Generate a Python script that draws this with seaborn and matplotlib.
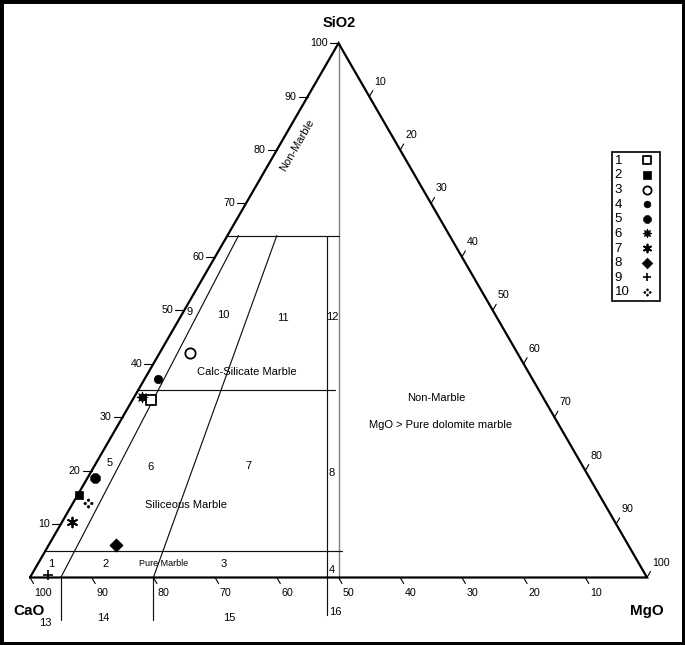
import numpy as np
import pandas as pd
import seaborn as sns
import matplotlib.pyplot as plt
from matplotlib.path import Path

# sample compositions in wt%
samples = ["1", "2", "3", "4", "5", "6", "7", "8", "9", "10"]
sio2 = [33.2, 15.4, 42.0, 37.2, 18.7, 33.8, 10.3, 6.1, 0.5, 13.9]
mgo = [3.0, 0.3, 4.9, 2.2, 1.2, 1.2, 1.6, 10.9, 2.6, 2.5]

# field boundaries as (SiO2, MgO) at both ends
bound_start = [(64, 0), (35, 0), (5, 0), (64, 1.8), (64, 8.0), (64, 16.1)]
bound_end = [(64, 18), (35, 32), (5, 48), (0, 5), (0, 20), (0, 48.1)]
# boundaries that carry on below the CaO-MgO side (MgO at the base)
drop_mgo = [5, 20, 48.1]

ticks = [10, 20, 30, 40, 50, 60, 70, 80, 90, 100]

H = np.sqrt(3) / 2
PX = 1 / 617.0  # one pixel in data units


def tern(s, m):
    s = np.asarray(s, dtype=float) / 100
    m = np.asarray(m, dtype=float) / 100
    return m + s / 2, s * H


sns.set_theme(style="white")
plt.rcParams['font.family'] = ['Liberation Sans', 'DejaVu Sans']
plt.rcParams['text.color'] = 'black'

fig = plt.figure(figsize=(6.85, 6.45), dpi=100)
ax = fig.add_axes([0, 0, 1, 1])
ax.set_xlim(-30 * PX, 655 * PX)
ax.set_ylim(-67.5 * PX, 577.5 * PX)
ax.set_xticks([])
ax.set_yticks([])
for sp in ax.spines.values():
    sp.set_visible(True)
    sp.set_color('black')
    sp.set_linewidth(5)

# triangle outline
tx, ty = tern([0, 100, 0, 0], [0, 0, 100, 0])
ax.plot(tx, ty, color='black', lw=1.6, solid_joinstyle='miter', zorder=3)

# dividing line from SiO2 apex to the 50:50 point
cx, cy = tern([100, 0], [0, 50])
ax.plot(cx, cy, color='#808080', lw=1.0, zorder=2)

for a, b in zip(bound_start, bound_end):
    lx, ly = tern([a[0], b[0]], [a[1], b[1]])
    ax.plot(lx, ly, color='#111111', lw=0.85, zorder=2)

for i, m in enumerate(drop_mgo):
    depth = 37.5 * PX if i == 2 else 42.5 * PX
    ax.plot([m / 100, m / 100], [0, -depth], color='#111111', lw=0.85, zorder=2)

# axis ticks and numbers
L = 7 * PX
for v in ticks:
    # CaO along the base
    x0 = 1 - v / 100
    ax.plot([x0, x0 + 0.5 * L], [0, -H * L], color='black', lw=0.8)
    ax.text(x0 + 4.5 * PX, -16 * PX, str(v), ha='left', va='center', fontsize=7.7)
    # SiO2 along the left side
    x1, y1 = tern(v, 0)
    ax.plot([x1, x1 - 9 * PX], [y1, y1], color='black', lw=0.8)
    ax.text(x1 - 11 * PX, y1, str(v), ha='right', va='center', fontsize=7.7)
    # MgO along the right side
    x2, y2 = tern(100 - v, v)
    ax.plot([x2, x2 + 0.5 * L], [y2, y2 + H * L], color='black', lw=0.8)
    ax.text(x2 + 5 * PX, y2 + 15 * PX, str(v), ha='left', va='center', fontsize=7.7)

# corner names
ax.text(0.5013, 0.8982, "SiO2", ha='center', va='center', fontsize=10.5, fontweight='bold')
ax.text(-0.001, -0.0538, "CaO", ha='center', va='center', fontsize=11, fontweight='bold')
ax.text(1.0005, -0.0543, "MgO", ha='center', va='center', fontsize=11, fontweight='bold')

# field labels
fields = [
    ("9", 0.2593, 0.4303), ("10", 0.3128, 0.4254), ("11", 0.4100, 0.4206),
    ("12", 0.4895, 0.4222), ("5", 0.1286, 0.1861), ("6", 0.1956, 0.1796),
    ("7", 0.3533, 0.1807), ("8", 0.4895, 0.1694), ("1", 0.0352, 0.0219),
    ("2", 0.1232, 0.0219), ("3", 0.3144, 0.0214), ("4", 0.4890, 0.0122),
    ("13", 0.0254, -0.0732), ("14", 0.1188, -0.0661), ("15", 0.3225, -0.0661),
    ("16", 0.4954, -0.0554),
    ("Calc-Silicate Marble", 0.3512, 0.3326),
    ("Siliceous Marble", 0.2528, 0.1175),
    ("Non-Marble", 0.6580, 0.2909),
    ("MgO > Pure dolomite marble", 0.6661, 0.2472),
]
for t, x, y in fields:
    ax.text(x, y, t, ha='center', va='center', fontsize=8)
ax.text(0.2172, 0.0219, "Pure Marble", ha='center', va='center', fontsize=6.5)
ax.text(0.4327, 0.7009, "Non-Marble", ha='center', va='center', fontsize=8, rotation=60)

# four-dot marker for sample 10
dots = Path.make_compound_path(*[Path.circle(c, 0.42) for c in [(0, 1), (1, 0), (0, -1), (-1, 0)]])

styles = {
    "1": dict(marker='s', s=50, color='white', edgecolor='black', linewidth=1.3),
    "2": dict(marker='s', s=40, color='black', edgecolor='black', linewidth=0.5),
    "3": dict(marker='o', s=55, color='white', edgecolor='black', linewidth=1.3),
    "4": dict(marker='o', s=36, color='black', edgecolor='black', linewidth=0.5),
    "5": dict(marker='8', s=55, color='black', edgecolor='black', linewidth=0.5),
    "6": dict(marker=(8, 1, 0), s=60, color='black', edgecolor='black', linewidth=0.6),
    "7": dict(marker=(6, 2, 0), s=50, color='black', edgecolor='black', linewidth=1.3),
    "8": dict(marker='D', s=45, color='black', edgecolor='black', linewidth=0.5),
    "9": dict(marker='+', s=55, color='black', edgecolor='black', linewidth=1.2),
    "10": dict(marker=dots, s=45, color='black', edgecolor='black', linewidth=0.3),
}

px, py = tern(sio2, mgo)
df = pd.DataFrame({"sample": samples, "x": px, "y": py})
for _, row in df.iterrows():
    lab = row["sample"]
    sns.scatterplot(x=[row["x"]], y=[row["y"]], ax=ax, zorder=5,
                    label=lab + "  " if len(lab) == 1 else lab, **styles[lab])

leg = ax.legend(loc='upper left', bbox_to_anchor=(612 / 685, 1 - 152 / 645),
                bbox_transform=fig.transFigure, borderaxespad=0, markerfirst=False,
                fontsize=9.5, handlelength=1.5, handletextpad=0.6, labelspacing=0.18,
                borderpad=0.2, fancybox=False, framealpha=1, edgecolor='black',
                markerscale=0.8)
leg.get_frame().set_linewidth(1.2)

fig.savefig("out.png", dpi=100)
